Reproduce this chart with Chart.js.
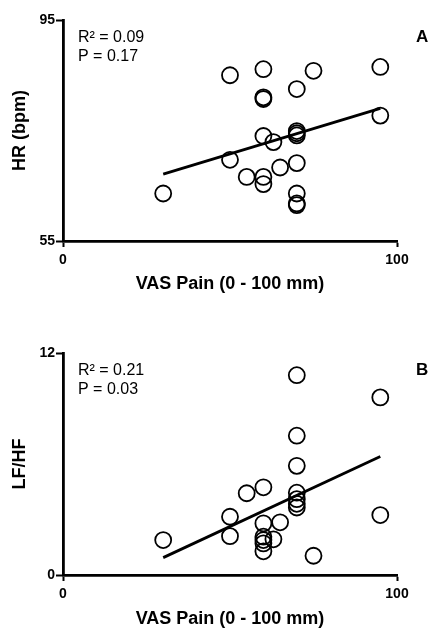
<!DOCTYPE html>
<html>
<head>
<meta charset="utf-8">
<script src="https://cdn.jsdelivr.net/npm/chart.js@4/dist/chart.umd.min.js"></script>
<style>
  html, body { margin: 0; padding: 0; background: #fff; }
  .wrap { position: relative; width: 432px; height: 314px; }
  canvas { display: block; }
</style>
</head>
<body>
<div class="wrap"><canvas id="cA" width="432" height="314"></canvas></div>
<div class="wrap"><canvas id="cB" width="432" height="314"></canvas></div>
<script>
// ---- Data ----
const xTicks = [0, 100];
const xTitle = 'VAS Pain (0 - 100 mm)';

// Panel A: HR vs VAS pain
const vasA = [30, 50, 60, 75, 95, 70, 60, 60, 95, 60, 63, 70, 70, 70, 50, 70, 65, 55, 60, 60, 70, 70, 70];
const hrA  = [63.6, 85.0, 86.1, 85.8, 86.5, 82.5, 81.0, 80.7, 77.7, 74.0, 72.9, 74.9, 74.5, 74.1, 69.7, 69.1, 68.3, 66.6, 66.6, 65.3, 63.6, 61.8, 61.5];
const fitA_x = [30, 95];
const fitA_y = [67.1, 79.0];
const yTicksA = [55, 95];
const yTitleA = 'HR (bpm)';
const statsA = ['R² = 0.09', 'P = 0.17'];
const panelA = 'A';

// Panel B: LF/HF vs VAS pain
const vasB  = [30, 70, 95, 70, 70, 55, 60, 70, 70, 70, 70, 50, 50, 60, 65, 60, 60, 60, 63, 60, 95, 75];
const lfhfB = [1.89, 10.8, 9.6, 7.53, 5.9, 4.42, 4.74, 4.45, 4.1, 3.85, 3.65, 3.15, 2.1, 2.79, 2.85, 2.07, 1.89, 1.71, 1.93, 1.28, 3.24, 1.04];
const fitB_x = [30, 95];
const fitB_y = [0.94, 6.4];
const yTicksB = [0, 12];
const yTitleB = 'LF/HF';
const statsB = ['R² = 0.21', 'P = 0.03'];
const panelB = 'B';

const FONT = '"Liberation Sans", Arial, Helvetica, sans-serif';

const annotPlugin = {
  id: 'annot',
  afterDraw(chart, args, opts) {
    const ctx = chart.ctx;
    const a = chart.chartArea;
    ctx.save();
    ctx.fillStyle = '#000';
    ctx.textAlign = 'left';
    ctx.textBaseline = 'alphabetic';
    ctx.font = '16px ' + FONT;
    ctx.fillText(opts.stats[0], a.left + 15, a.top + 22);
    ctx.fillText(opts.stats[1], a.left + 15, a.top + 40.5);
    ctx.font = 'bold 17px ' + FONT;
    ctx.fillText(opts.label, 416, a.top + 21.5);
    ctx.restore();
  }
};

function makeChart(id, xs, ys, fx, fy, yTicks, yTitle, stats, label, padTop, xHeight, titlePad) {
  const pts = xs.map((v, i) => ({x: v, y: ys[i]}));
  const fit = fx.map((v, i) => ({x: v, y: fy[i]}));
  return new Chart(document.getElementById(id), {
    type: 'scatter',
    data: {
      datasets: [
        {
          data: pts,
          showLine: false,
          pointStyle: 'circle',
          pointRadius: 8,
          pointBorderWidth: 1.8,
          pointBorderColor: '#000',
          pointBackgroundColor: 'rgba(0,0,0,0)',
          order: 1
        },
        {
          data: fit,
          showLine: true,
          borderColor: '#000',
          borderWidth: 2.8,
          pointRadius: 0,
          fill: false,
          order: 0
        }
      ]
    },
    options: {
      responsive: false,
      animation: false,
      events: [],
      layout: { padding: { top: padTop, right: 35, left: 0, bottom: 0 } },
      plugins: {
        legend: { display: false },
        tooltip: { enabled: false },
        annot: { stats: stats, label: label }
      },
      scales: {
        x: {
          type: 'linear',
          min: xTicks[0], max: xTicks[xTicks.length - 1],
          afterBuildTicks: s => { s.ticks = xTicks.map(v => ({value: v})); },
          afterFit: s => { s.height = xHeight; },
          border: { display: true, color: '#000', width: 2.8 },
          grid: { display: true, drawOnChartArea: false, drawTicks: true, tickLength: 6, tickWidth: 2, tickColor: '#000', color: '#000' },
          ticks: { color: '#000', font: { family: FONT, size: 14, weight: 'bold' }, padding: 5, maxRotation: 0 },
          title: { display: true, text: xTitle, color: '#000', font: { family: FONT, size: 18, weight: 'bold', lineHeight: 1 }, padding: { top: 0, bottom: titlePad } }
        },
        y: {
          type: 'linear',
          min: yTicks[0], max: yTicks[yTicks.length - 1],
          afterBuildTicks: s => { s.ticks = yTicks.map(v => ({value: v})); },
          afterFit: s => { s.width = 63; },
          border: { display: true, color: '#000', width: 2.8 },
          grid: { display: true, drawOnChartArea: false, drawTicks: true, tickLength: 7, tickWidth: 2, tickColor: '#000', color: '#000' },
          ticks: { color: '#000', font: { family: FONT, size: 14, weight: 'bold' }, padding: 1 },
          title: { display: true, text: yTitle, color: '#000', font: { family: FONT, size: 18, weight: 'bold', lineHeight: 1 }, padding: { top: 11, bottom: 0 } }
        }
      }
    },
    plugins: [annotPlugin]
  });
}

makeChart('cA', vasA, hrA, fitA_x, fitA_y, yTicksA, yTitleA, statsA, panelA, 20, 73, 20.5);
makeChart('cB', vasB, lfhfB, fitB_x, fitB_y, yTicksB, yTitleB, statsB, panelB, 39, 53, 0);
</script>
</body>
</html>
